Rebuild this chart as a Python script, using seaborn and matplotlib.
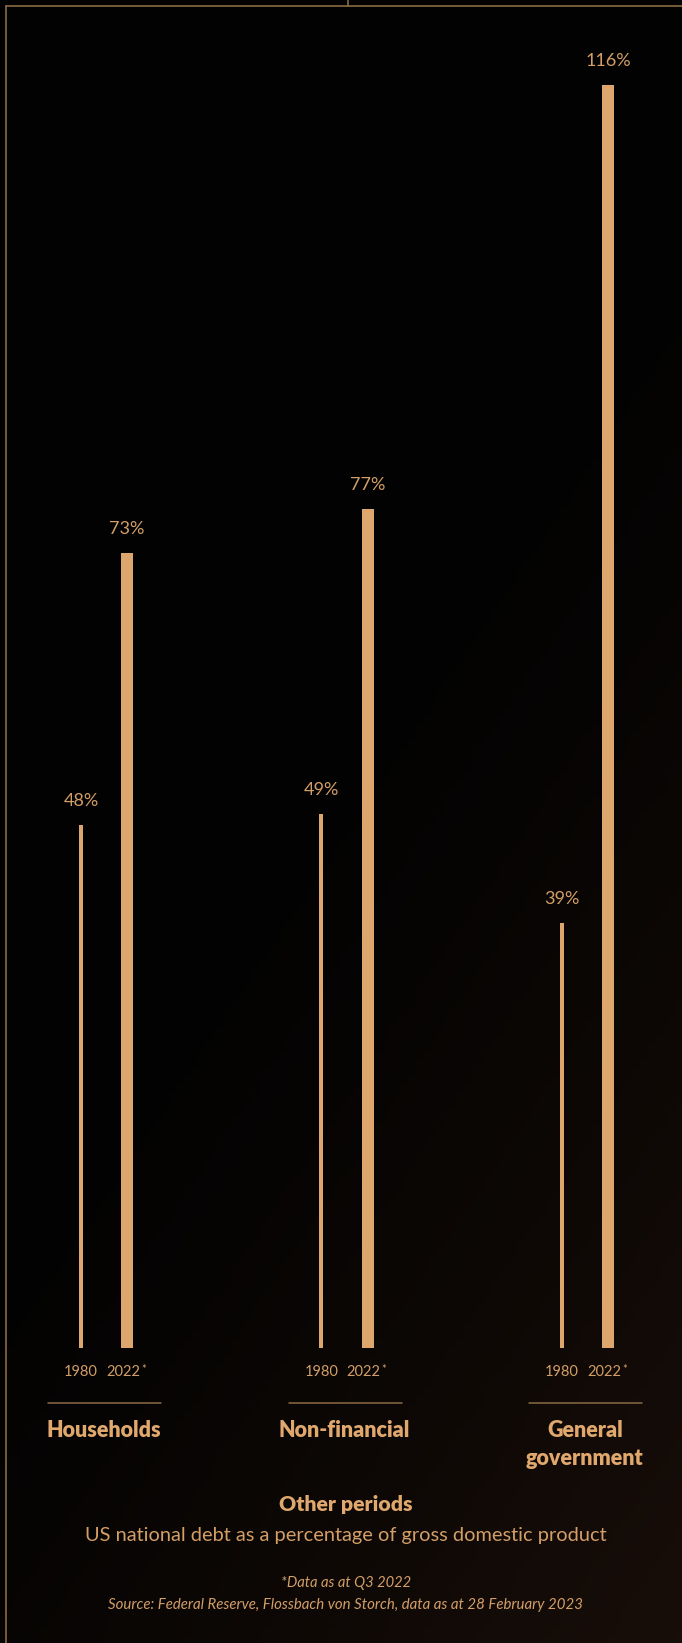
import numpy as np
import pandas as pd
import matplotlib
matplotlib.use("Agg")
import matplotlib.pyplot as plt
from matplotlib.lines import Line2D
import seaborn as sns

# ---- data ----
categories = ["Households", "Non-financial", "General\ngovernment"]
years = ["1980", "2022"]
values_1980 = [48, 49, 39]
values_2022 = [73, 77, 116]
title = "Other periods"
subtitle = "US national debt as a percentage of gross domestic product"
footnote = "*Data as at Q3 2022"
source = "Source: Federal Reserve, Flossbach von Storch, data as at 28 February 2023"

df = pd.DataFrame({
    "category": categories * 2,
    "year": [years[0]] * 3 + [years[1]] * 3,
    "value": values_1980 + values_2022,
})

# ---- style ----
BAR = "#dca66d"
TXT = "#d39e67"
LINE = "#8c6a46"
W, H, DPI = 682, 1643, 100
sns.set_theme(style="white")
plt.rcParams["font.family"] = ["Lato", "DejaVu Sans"]

fig = plt.figure(figsize=(W / DPI, H / DPI), dpi=DPI)

# background gradient (dark, warming slightly toward the bottom right)
bg = fig.add_axes([0, 0, 1, 1], zorder=-10)
yy, xx = np.mgrid[0:1:200j, 0:1:100j]   # yy: 0 bottom .. 1 top
g = np.clip((1 - yy) * 0.8 + xx * 0.5 - 0.55, 0, 1) / 0.75
g = np.clip(g, 0, 1) ** 1.3
c0 = np.array([2, 2, 2]) / 255
c1 = np.array([24, 14, 9]) / 255
img = c0[None, None, :] * (1 - g[..., None]) + c1[None, None, :] * g[..., None]
bg.imshow(img, aspect="auto", extent=[0, 1, 0, 1], origin="lower")
bg.set_axis_off()

ax = fig.add_axes([0, 0, 1, 1])
ax.patch.set_alpha(0)

px_per_unit_y = 10.89
base_py = 1348
group_px = 240.5
g0_px = 104

sns.barplot(data=df, x="category", y="value", hue="year", order=categories,
            hue_order=years, palette={years[0]: BAR, years[1]: BAR},
            width=0.383, dodge=True, legend=False, saturation=1, ax=ax,
            edgecolor="none", linewidth=0)

ax.set_xlim(-g0_px / group_px, (W - g0_px) / group_px)
ax.set_ylim(-(H - base_py) / px_per_unit_y, base_py / px_per_unit_y)
ax.set_axis_off()

widths_px = [4, 12]
for cont, wpx in zip(ax.containers, widths_px):
    for p in cont.patches:
        cx = p.get_x() + p.get_width() / 2
        w = wpx / group_px
        p.set_width(w)
        p.set_x(cx - w / 2)
        p.set_facecolor(BAR)

# value labels
PT = 72 / DPI
for cont in ax.containers:
    for p in cont.patches:
        cx = p.get_x() + p.get_width() / 2
        v = p.get_height()
        ax.annotate(f"{v:.0f}%", (cx, v), xytext=(0, 19 * PT), textcoords="offset points",
                    ha="center", va="baseline", fontsize=13, color=TXT)

xtr = ax.get_xaxis_transform()

def fy(py):
    return 1 - py / H

# year labels and separators
for i, cat in enumerate(categories):
    c1980 = ax.containers[0].patches[i]
    c2022 = ax.containers[1].patches[i]
    x1 = c1980.get_x() + c1980.get_width() / 2
    x2 = c2022.get_x() + c2022.get_width() / 2
    ax.text(x1, fy(1372), years[0], transform=xtr, ha="center", va="center",
            fontsize=10.5, color=TXT)
    ax.text(x2 - 4 / group_px, fy(1372), years[1], transform=xtr, ha="center", va="center",
            fontsize=10.5, color=TXT)
    ax.text(x2 + 14 / group_px, fy(1369), "*", transform=xtr, ha="left", va="center",
            fontsize=8, color=TXT)
    ax.plot([i - 56 / group_px, i + 57 / group_px], [fy(1403)] * 2, transform=xtr,
            color=LINE, lw=1.1)
    ax.text(i, fy(1420), cat, transform=xtr, ha="center", va="top", fontsize=15.5,
            fontweight="heavy", color="#e0a86d", linespacing=1.4)

# titles
fig.text(346 / W, fy(1505), title, ha="center", va="center", fontsize=15.3,
         fontweight="heavy", color="#e0a86d")
fig.text(346 / W, fy(1535), subtitle, ha="center", va="center", fontsize=14.4,
         color=TXT)
fig.text(346 / W, fy(1583), footnote, ha="center", va="center", fontsize=10.6,
         style="italic", color=TXT)
fig.text(346 / W, fy(1605), source, ha="center", va="center", fontsize=10.8,
         style="italic", color=TXT)

# frame lines
def fl(x0, y0, x1, y1):
    fig.add_artist(Line2D([x0 / W, x1 / W], [fy(y0), fy(y1)], color=LINE, lw=1.2,
                          transform=fig.transFigure))

fl(6, 6, W, 6)
fl(6, 6, 6, H)
fl(348, 0, 348, 6)

fig.savefig("out.png", dpi=DPI, facecolor="black")
